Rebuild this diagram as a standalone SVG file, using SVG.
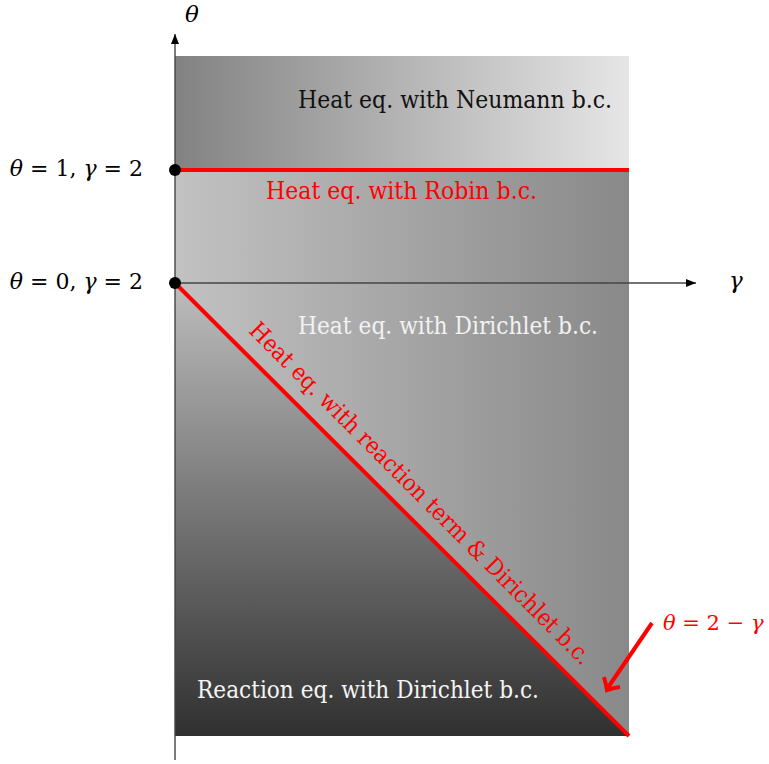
<svg xmlns="http://www.w3.org/2000/svg" width="769" height="764" viewBox="0 0 769 764">
<style>
.lbl{font-family:"DejaVu Serif","Liberation Serif",serif;font-size:23.5px}
.math{font-family:"DejaVu Serif","Liberation Serif",serif;font-size:22px}
.mr{font-family:"DejaVu Serif","Liberation Serif",serif;font-size:21px}
.ax{font-family:"DejaVu Serif","Liberation Serif",serif;font-size:23px;font-style:italic}
.it{font-style:italic}
.red{fill:#ff0000}
.axis{stroke:#444;stroke-width:1.4;fill:none}
.rl{stroke:#ff0000;stroke-width:4;fill:none}
</style>
<defs>
<linearGradient id="gTop" x1="175" y1="0" x2="629" y2="0" gradientUnits="userSpaceOnUse">
<stop offset="0" stop-color="#828282"/><stop offset="1" stop-color="#e6e6e6"/>
</linearGradient>
<linearGradient id="gMid" x1="175" y1="0" x2="629" y2="0" gradientUnits="userSpaceOnUse">
<stop offset="0" stop-color="#c2c2c2"/><stop offset="1" stop-color="#898989"/>
</linearGradient>
<linearGradient id="gLow" x1="0" y1="283" x2="0" y2="736" gradientUnits="userSpaceOnUse">
<stop offset="0" stop-color="#bdbdbd"/><stop offset="1" stop-color="#303030"/>
</linearGradient>
<marker id="ah" viewBox="0 0 10 8" refX="10" refY="4" markerWidth="10" markerHeight="8" markerUnits="userSpaceOnUse" orient="auto">
<path d="M0,0 L10,4 L0,8 Z" fill="#000"/>
</marker>
</defs>
<g id="regions">
<rect x="175" y="56" width="454" height="114" fill="url(#gTop)"/>
<rect x="175" y="170" width="454" height="566" fill="url(#gMid)"/>
<polygon points="175,283 629,736 175,736" fill="url(#gLow)"/>
</g>
<g id="connectors">
<line class="axis" x1="175" y1="760" x2="175" y2="34" marker-end="url(#ah)"/>
<line class="axis" x1="175" y1="283" x2="696" y2="283" marker-end="url(#ah)"/>
<line class="rl" x1="175" y1="170" x2="629" y2="170"/>
<line class="rl" x1="175" y1="283" x2="629" y2="736"/>
<path class="rl" d="M652,623 L607,689"/>
<path class="rl" d="M604,677 Q606,684 607,690 Q613,688 620,687" stroke-linejoin="miter"/>
</g>
<g id="points">
<circle cx="175" cy="170" r="6" fill="#000"/>
<circle cx="175" cy="283" r="6" fill="#000"/>
</g>
<g id="labels">
<text class="lbl" x="298" y="108" textLength="314" lengthAdjust="spacingAndGlyphs" fill="#111">Heat eq. with Neumann b.c.</text>
<text class="lbl red" x="266" y="199" textLength="271" lengthAdjust="spacingAndGlyphs">Heat eq. with Robin b.c.</text>
<text class="lbl" x="298" y="334" textLength="300" lengthAdjust="spacingAndGlyphs" fill="#f2f2f2">Heat eq. with Dirichlet b.c.</text>
<text class="lbl" x="197" y="698" textLength="342" lengthAdjust="spacingAndGlyphs" fill="#f4f4f4">Reaction eq. with Dirichlet b.c.</text>
<text class="lbl red" transform="translate(175,283) rotate(45)" x="86" y="-17" textLength="473" lengthAdjust="spacingAndGlyphs">Heat eq. with reaction term &amp; Dirichlet b.c.</text>
<text class="math" x="143" y="176" text-anchor="end"><tspan class="it">θ</tspan> = 1, <tspan class="it">γ</tspan> = 2</text>
<text class="math" x="143" y="289" text-anchor="end"><tspan class="it">θ</tspan> = 0, <tspan class="it">γ</tspan> = 2</text>
<text class="ax" x="185" y="22">θ</text>
<text class="ax" x="729" y="288">γ</text>
<text class="mr red" x="663" y="630"><tspan class="it">θ</tspan> = 2 − <tspan class="it">γ</tspan></text>
</g>
</svg>
